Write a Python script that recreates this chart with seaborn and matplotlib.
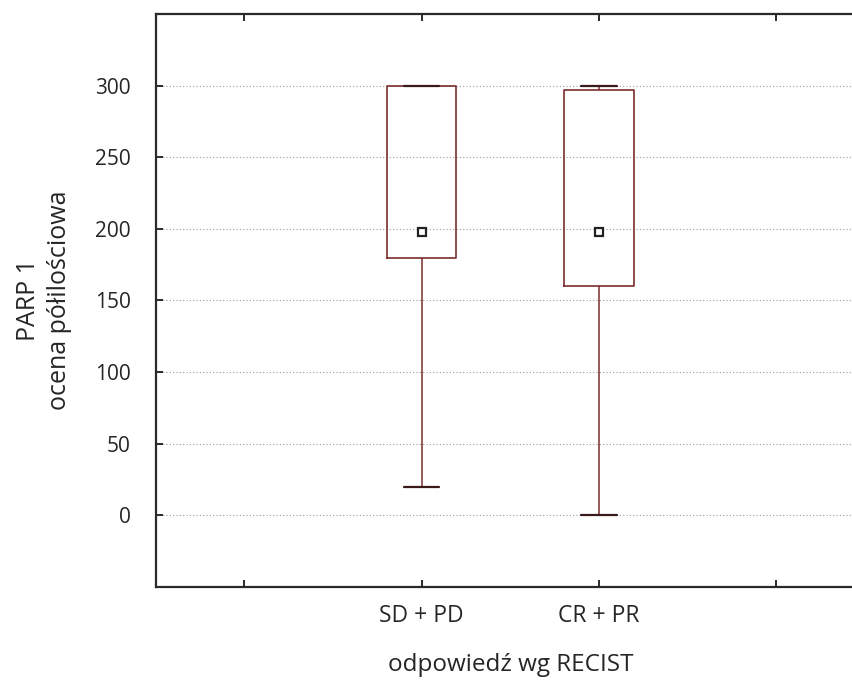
import numpy as np
import pandas as pd
import matplotlib
matplotlib.use("Agg")
import matplotlib.pyplot as plt
import seaborn as sns

# Five-number summaries of PARP 1 semi-quantitative score per RECIST response group
groups = ["SD + PD", "CR + PR"]
positions = [1, 2]
minimum = [20, 0]
q1 = [180, 160]
median = [198, 198]
q3 = [300, 297]
maximum = [300, 300]

y_ticks = [0, 50, 100, 150, 200, 250, 300]
x_label = "odpowiedź wg RECIST"
y_label = "PARP 1\nocena półilościowa"

rows = []
for g, p, a, b, c, d, e in zip(groups, positions, minimum, q1, median, q3, maximum):
    for v in (a, b, c, d, e):
        rows.append({"group": g, "pos": p, "value": v})
df = pd.DataFrame(rows)
df_med = pd.DataFrame({"group": groups, "pos": positions, "median": median})

sns.set_theme(style="white")
plt.rcParams["font.family"] = ["Open Sans", "DejaVu Sans"]

box_color = "#7a2e2e"
spine_color = "#2a2a2a"
text_color = "#262626"

fig = plt.figure(figsize=(8.53, 6.82), dpi=100)
ax = fig.add_axes([0.1823, 0.1393, 0.832, 0.8402])

sns.boxplot(
    data=df, x="pos", y="value", native_scale=True, ax=ax,
    width=0.39, whis=(0, 100), fill=False, color=box_color, linewidth=1.2,
    showfliers=False,
    medianprops={"visible": False},
    whiskerprops={"color": box_color, "linewidth": 1.1},
    capprops={"color": "#3a1a1a", "linewidth": 1.6},
    boxprops={"color": box_color, "linewidth": 1.2},
    capwidths=0.2,
)

sns.pointplot(
    data=df_med, x="pos", y="median", native_scale=True, ax=ax,
    linestyle="none", marker="s", markersize=6, markerfacecolor="white",
    markeredgecolor="#222222", markeredgewidth=1.6, color="#222222",
    errorbar=None,
)

ax.set_xlim(-0.5, 3.5)
ax.set_ylim(-50, 350)
ax.set_xticks([0, 1, 2, 3])
ax.set_xticklabels(["", groups[0], groups[1], ""])
ax.set_yticks(y_ticks)
ax.set_yticklabels([str(t) for t in y_ticks])

ax.yaxis.grid(True, linestyle=(0, (1, 2)), color="#9a9a9a", linewidth=0.8)
ax.xaxis.grid(False)
ax.set_axisbelow(True)

for side in ("left", "top", "bottom"):
    ax.spines[side].set_visible(True)
    ax.spines[side].set_color(spine_color)
    ax.spines[side].set_linewidth(1.6)
ax.spines["right"].set_visible(False)

ax.tick_params(axis="x", which="both", direction="in", top=True, bottom=True,
               length=5, width=1.4, color=spine_color, labelsize=16.5,
               labelcolor=text_color, pad=12)
ax.tick_params(axis="y", which="both", direction="in", left=True, right=False,
               length=5, width=1.4, color=spine_color, labelsize=15,
               labelcolor=text_color, pad=18)

ax.set_xlabel(x_label, fontsize=17.5, color=text_color, labelpad=18)
ax.set_ylabel(y_label, fontsize=18, color=text_color, labelpad=16, linespacing=1.35)

fig.savefig("out.png", dpi=100)
